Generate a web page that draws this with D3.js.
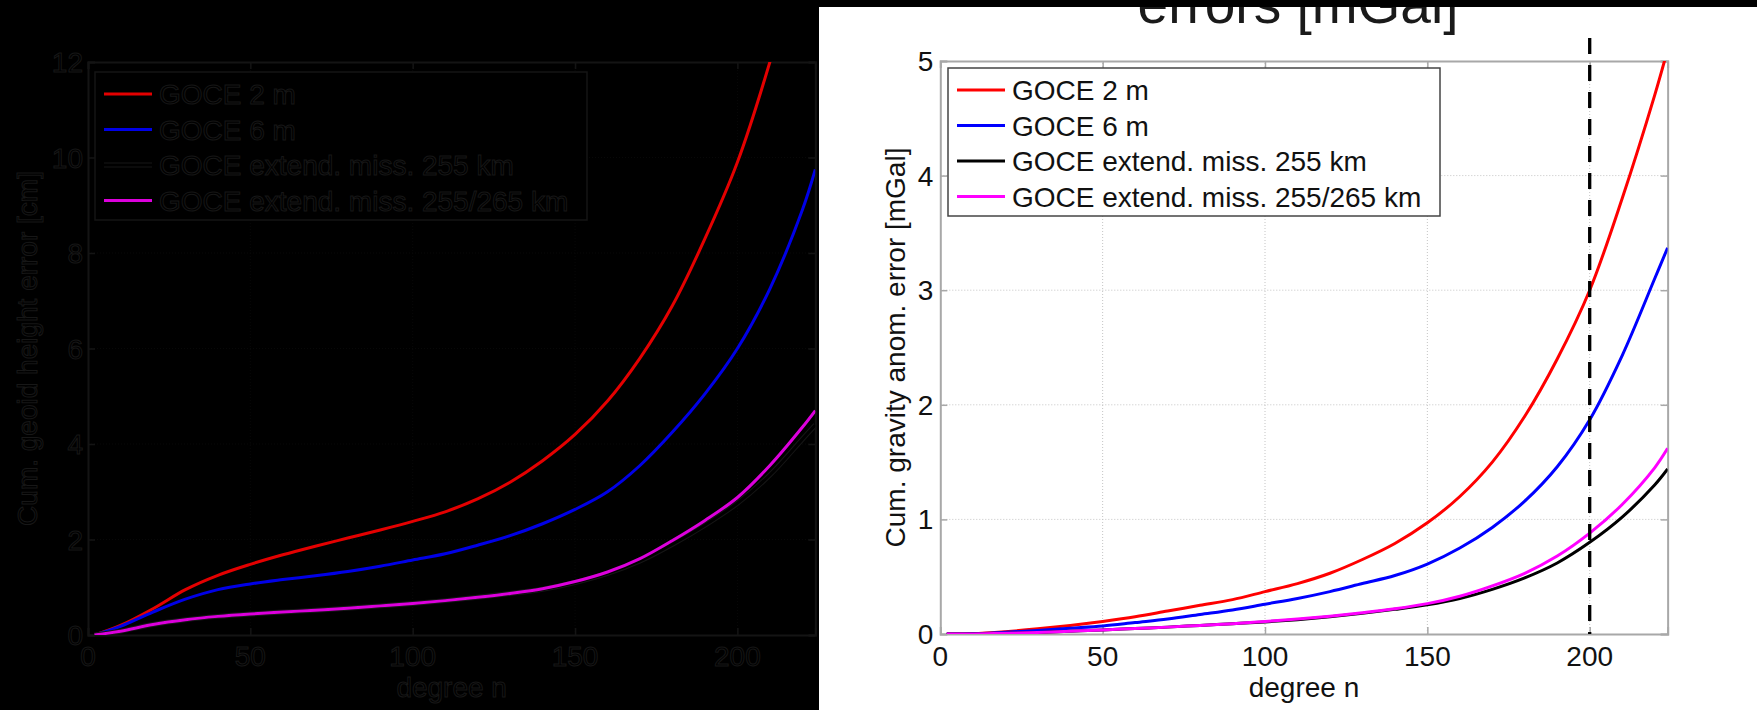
<!DOCTYPE html>
<html>
<head>
<meta charset="utf-8">
<script src="https://cdn.jsdelivr.net/npm/d3@7/dist/d3.min.js"></script>
<style>
    body { margin: 0; background: #000; }
    svg { display: block; }
    text { font-family: Arial, "Liberation Sans", sans-serif; }
</style>
</head>
<body>
<svg id="chart"></svg>
<script>
var degrees = [2, 10, 20, 30, 40, 50, 60, 70, 80, 90, 100, 110, 120, 130, 140, 150, 160, 170, 180, 190, 200, 210, 220, 224];

// left panel: cumulative geoid height error [cm]
var geoid2m   = [0, 0.2, 0.55, 0.95, 1.25, 1.48, 1.68, 1.86, 2.03, 2.2, 2.38, 2.58, 2.85, 3.2, 3.65, 4.2, 4.9, 5.8, 6.9, 8.3, 9.9, 12.0, 14.5, 15.6];
var geoid6m   = [0, 0.18, 0.48, 0.75, 0.95, 1.07, 1.16, 1.24, 1.33, 1.44, 1.57, 1.7, 1.88, 2.08, 2.33, 2.63, 3.0, 3.55, 4.25, 5.05, 6.0, 7.25, 8.9, 9.75];
var geoid255  = [0, 0.08, 0.22, 0.32, 0.39, 0.44, 0.48, 0.52, 0.56, 0.61, 0.66, 0.72, 0.79, 0.87, 0.96, 1.1, 1.29, 1.55, 1.9, 2.3, 2.76, 3.35, 4.1, 4.4];
var geoid265  = [0, 0.08, 0.22, 0.32, 0.39, 0.44, 0.48, 0.52, 0.56, 0.61, 0.66, 0.72, 0.79, 0.87, 0.97, 1.12, 1.32, 1.6, 1.98, 2.4, 2.88, 3.55, 4.35, 4.7];

// right panel: cumulative gravity anomaly error [mGal]
var grav2m    = [0, 0.002, 0.02, 0.045, 0.075, 0.11, 0.15, 0.2, 0.25, 0.3, 0.37, 0.44, 0.53, 0.65, 0.79, 0.97, 1.2, 1.5, 1.9, 2.4, 3.0, 3.8, 4.7, 5.1];
var grav6m    = [0, 0.002, 0.015, 0.03, 0.05, 0.07, 0.1, 0.13, 0.17, 0.21, 0.26, 0.31, 0.37, 0.44, 0.51, 0.61, 0.75, 0.93, 1.16, 1.46, 1.87, 2.43, 3.1, 3.37];
var grav255   = [0, 0.001, 0.006, 0.014, 0.024, 0.035, 0.048, 0.06, 0.075, 0.09, 0.105, 0.125, 0.15, 0.18, 0.215, 0.255, 0.31, 0.39, 0.49, 0.62, 0.8, 1.02, 1.3, 1.44];
var grav265   = [0, 0.001, 0.006, 0.014, 0.024, 0.035, 0.048, 0.06, 0.075, 0.09, 0.11, 0.13, 0.155, 0.185, 0.22, 0.265, 0.33, 0.42, 0.53, 0.68, 0.88, 1.13, 1.45, 1.62];

var seriesNames = ['GOCE 2 m', 'GOCE 6 m', 'GOCE extend. miss. 255 km', 'GOCE extend. miss. 255/265 km'];
var xTicks = [0, 50, 100, 150, 200];
var geoidTicks = [0, 2, 4, 6, 8, 10, 12];
var gravTicks = [0, 1, 2, 3, 4, 5];
var markerDegree = 200;

var W = 1757, H = 710;
var svg = d3.select('#chart').attr('width', W).attr('height', H);

svg.append('rect').attr('width', W).attr('height', H).attr('fill', '#000');

// white panel on the right
svg.append('rect')
    .attr('x', 819).attr('y', 7)
    .attr('width', W - 819).attr('height', H - 7)
    .attr('fill', '#fff');

var defs = svg.append('defs');
defs.append('clipPath').attr('id', 'clip-white')
    .append('rect').attr('x', 819).attr('y', 7).attr('width', W - 819).attr('height', H - 7);

// second title line, top part hidden under the black strip as in the source
svg.append('text')
    .attr('clip-path', 'url(#clip-white)')
    .attr('x', 1298).attr('y', 23)
    .attr('text-anchor', 'middle')
    .attr('font-size', 55)
    .attr('fill', '#1a1a1a')
    .text('errors [mGal]');

function drawPanel(cfg) {
    var x = d3.scaleLinear().domain([0, 224]).range([cfg.left, cfg.left + 224 * 3.247]);
    var y = d3.scaleLinear().domain([0, cfg.ymax]).range([cfg.bottom, cfg.top]);
    var g = svg.append('g');

    defs.append('clipPath').attr('id', cfg.id)
        .append('rect')
        .attr('x', x(0)).attr('y', y(cfg.ymax))
        .attr('width', x(224) - x(0)).attr('height', y(0) - y(cfg.ymax));

    // dotted grid
    g.append('g').selectAll('line').data(xTicks.slice(1)).enter().append('line')
        .attr('x1', function (d) { return x(d); }).attr('x2', function (d) { return x(d); })
        .attr('y1', y(0)).attr('y2', y(cfg.ymax))
        .attr('stroke', cfg.grid).attr('stroke-width', 1).attr('stroke-dasharray', '1,2');
    g.append('g').selectAll('line').data(cfg.yTicks.slice(1, -1)).enter().append('line')
        .attr('x1', x(0)).attr('x2', x(224))
        .attr('y1', function (d) { return y(d); }).attr('y2', function (d) { return y(d); })
        .attr('stroke', cfg.grid).attr('stroke-width', 1).attr('stroke-dasharray', '1,2');

    // axes with inward ticks
    var axes = [
        [d3.axisBottom(x).tickValues(xTicks), 'translate(0,' + y(0) + ')'],
        [d3.axisTop(x).tickValues(xTicks), 'translate(0,' + y(cfg.ymax) + ')'],
        [d3.axisLeft(y).tickValues(cfg.yTicks), 'translate(' + x(0) + ',0)'],
        [d3.axisRight(y).tickValues(cfg.yTicks), 'translate(' + x(224) + ',0)']
    ];
    axes.forEach(function (a) {
        var ax = g.append('g').attr('transform', a[1])
            .call(a[0].tickSize(-7).tickFormat(''));
        ax.select('.domain').attr('stroke', cfg.frame).attr('stroke-width', 2);
        ax.selectAll('.tick line').attr('stroke', cfg.frame).attr('stroke-width', 1.5);
    });

    // tick labels
    g.append('g').selectAll('text').data(xTicks).enter().append('text')
        .attr('x', function (d) { return x(d); }).attr('y', 666)
        .attr('text-anchor', 'middle').attr('font-size', 28)
        .attr('fill', cfg.text).attr('stroke', cfg.textStroke).attr('stroke-width', cfg.strokeW)
        .text(function (d) { return d; });
    g.append('g').selectAll('text').data(cfg.yTicks).enter().append('text')
        .attr('x', x(0) - cfg.yLabelGap).attr('y', function (d) { return y(d) + 10; })
        .attr('text-anchor', 'end').attr('font-size', 28)
        .attr('fill', cfg.text).attr('stroke', cfg.textStroke).attr('stroke-width', cfg.strokeW)
        .text(function (d) { return d; });

    g.append('text')
        .attr('x', (x(0) + x(224)) / 2).attr('y', 697)
        .attr('text-anchor', 'middle').attr('font-size', 28)
        .attr('fill', cfg.text).attr('stroke', cfg.textStroke).attr('stroke-width', cfg.strokeW)
        .text('degree n');
    g.append('text')
        .attr('transform', 'translate(' + cfg.yTitleX + ',' + (y(0) + y(cfg.ymax)) / 2 + ') rotate(-90)')
        .attr('text-anchor', 'middle').attr('font-size', 28)
        .attr('fill', cfg.text).attr('stroke', cfg.textStroke).attr('stroke-width', cfg.strokeW)
        .text(cfg.yTitle);

    // curves
    var line = d3.line()
        .x(function (d, i) { return x(degrees[i]); })
        .y(function (d) { return y(d); })
        .curve(d3.curveCatmullRom.alpha(0.5));
    var lines = g.append('g').attr('clip-path', 'url(#' + cfg.id + ')');
    cfg.series.forEach(function (s, i) {
        if (cfg.halo[i]) {
            lines.append('path').attr('d', line(s)).attr('fill', 'none')
                .attr('stroke', cfg.halo[i]).attr('stroke-width', 5);
        }
        lines.append('path').attr('d', line(s)).attr('fill', 'none')
            .attr('stroke', cfg.colors[i]).attr('stroke-width', 3);
    });

    if (cfg.marker) {
        g.append('line')
            .attr('x1', x(markerDegree)).attr('x2', x(markerDegree))
            .attr('y1', 38).attr('y2', y(0))
            .attr('stroke', '#000').attr('stroke-width', 3.3)
            .attr('stroke-dasharray', '16,11');
    }

    // legend
    var lg = g.append('g').attr('transform', 'translate(' + cfg.legend[0] + ',' + cfg.legend[1] + ')');
    lg.append('rect').attr('width', 492).attr('height', 148)
        .attr('fill', cfg.legendFill).attr('stroke', cfg.legendStroke).attr('stroke-width', 1.5);
    seriesNames.forEach(function (name, i) {
        var ly = 22 + i * 35.5;
        if (cfg.halo[i]) {
            lg.append('line').attr('x1', 9).attr('x2', 57).attr('y1', ly).attr('y2', ly)
                .attr('stroke', cfg.halo[i]).attr('stroke-width', 5);
        }
        lg.append('line').attr('x1', 9).attr('x2', 57).attr('y1', ly).attr('y2', ly)
            .attr('stroke', cfg.colors[i]).attr('stroke-width', 3);
        lg.append('text').attr('x', 64).attr('y', ly + 10).attr('font-size', 28)
            .attr('fill', cfg.text).attr('stroke', cfg.textStroke).attr('stroke-width', cfg.strokeW)
            .text(name);
    });
}

drawPanel({
    id: 'clip-left', left: 88, top: 62, bottom: 635, ymax: 12, yTicks: geoidTicks,
    series: [geoid2m, geoid6m, geoid255, geoid265],
    colors: ['#e40000', '#0000e6', '#000', '#dc00dc'],
    halo: [null, null, '#161616', null],
    grid: '#080808', frame: '#141414',
    text: '#000', textStroke: '#171717', strokeW: 1,
    yLabelGap: 5, yTitleX: 37, yTitle: 'Cum. geoid height error [cm]',
    legend: [95, 72], legendFill: '#000', legendStroke: '#151515',
    marker: false
});

drawPanel({
    id: 'clip-right', left: 940.3, top: 61, bottom: 634, ymax: 5, yTicks: gravTicks,
    series: [grav2m, grav6m, grav255, grav265],
    colors: ['#ff0000', '#0000ff', '#000', '#ff00ff'],
    halo: [null, null, null, null],
    grid: '#c4c4c4', frame: '#a8a8a8',
    text: '#111', textStroke: 'none', strokeW: 0,
    yLabelGap: 7, yTitleX: 905, yTitle: 'Cum. gravity anom. error [mGal]',
    legend: [948, 68], legendFill: '#fff', legendStroke: '#444',
    marker: true
});
</script>
</body>
</html>
